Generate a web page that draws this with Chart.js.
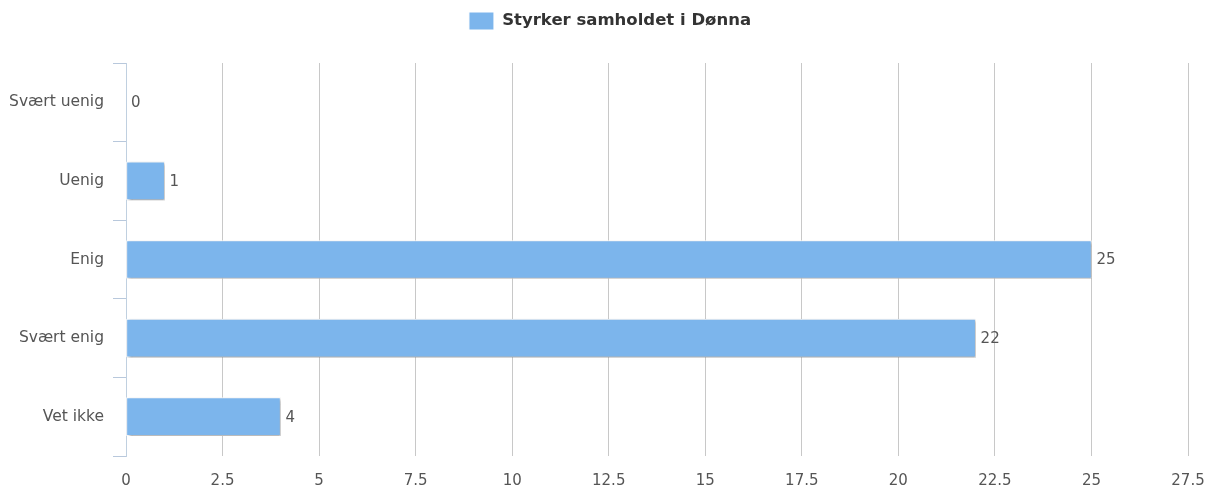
<!DOCTYPE html>
<html>
<head>
<meta charset="utf-8">
<script src="https://cdn.jsdelivr.net/npm/chart.js@4/dist/chart.umd.min.js"></script>
<style>
  html, body { margin: 0; padding: 0; background: #fff; }
  #wrap { width: 1205px; height: 491px; }
</style>
</head>
<body>
<div id="wrap"><canvas id="surveyChart"></canvas></div>
<script>
// Svaralternativer og antall svar
const categories = ['Svært uenig', 'Uenig', 'Enig', 'Svært enig', 'Vet ikke'];
const answers = [0, 1, 25, 22, 4];
const seriesName = 'Styrker samholdet i Dønna';
const xTicks = [0, 2.5, 5, 7.5, 10, 12.5, 15, 17.5, 20, 22.5, 25, 27.5];

const FONT = '"DejaVu Sans", "Noto Sans", sans-serif';

// ekstra luft under legenden, og legenden midt på hele bildet
const legendSpace = {
    id: 'legendSpace',
    beforeInit(chart) {
        const fit = chart.legend.fit;
        chart.legend.fit = function () {
            fit.call(this);
            this.height += 23;
        };
    },
    afterLayout(chart) {
        chart.legend.left += 16;
        chart.legend.right += 16;
    }
};

// skygge under stolpene (som i Highcharts)
const barShadow = {
    id: 'barShadow',
    beforeDatasetsDraw(chart) {
        const c = chart.ctx;
        c.save();
        c.shadowColor = 'rgba(0,0,0,0.4)';
        c.shadowBlur = 3;
        c.shadowOffsetX = 1.5;
        c.shadowOffsetY = 1.5;
    },
    afterDatasetsDraw(chart) {
        chart.ctx.restore();
    }
};

// tall til høyre for hver stolpe
const valueLabels = {
    id: 'valueLabels',
    afterDatasetsDraw(chart) {
        const c = chart.ctx;
        const meta = chart.getDatasetMeta(0);
        c.save();
        c.font = '15px ' + FONT;
        c.fillStyle = '#555';
        c.textAlign = 'left';
        c.textBaseline = 'middle';
        meta.data.forEach((bar, i) => {
            c.fillText(String(answers[i]), bar.x + 5, bar.y + 1);
        });
        c.restore();
    }
};

new Chart(document.getElementById('surveyChart'), {
    type: 'bar',
    data: {
        labels: categories,
        datasets: [{
            label: seriesName,
            data: answers,
            backgroundColor: '#7cb5ec',
            borderColor: '#ffffff',
            borderWidth: 1,
            borderSkipped: false,
            barThickness: 38
        }]
    },
    options: {
        indexAxis: 'y',
        responsive: true,
        maintainAspectRatio: false,
        animation: false,
        layout: { padding: { top: 2, right: 17, left: 0, bottom: 0 } },
        plugins: {
            legend: {
                position: 'top',
                labels: {
                    boxWidth: 25,
                    boxHeight: 18,
                    padding: 10,
                    color: '#333',
                    font: { family: FONT, size: 16.5, weight: 'bold' }
                }
            },
            tooltip: { enabled: false }
        },
        scales: {
            x: {
                min: 0,
                max: 27.5,
                afterBuildTicks: (scale) => { scale.ticks = xTicks.map(v => ({ value: v })); },
                grid: { color: '#c8c8c8', drawTicks: false, lineWidth: 1 },
                border: { display: false },
                ticks: {
                    color: '#555',
                    padding: 16,
                    font: { family: FONT, size: 15 },
                    callback: (v) => String(v)
                },
                afterFit: (scale) => {
                    scale.height = 35;
                    scale.paddingLeft = 0;
                    scale.paddingRight = 0;
                }
            },
            y: {
                grid: {
                    offset: true,
                    drawOnChartArea: false,
                    drawTicks: true,
                    tickLength: 13,
                    color: '#b8c8dc'
                },
                border: { display: true, color: '#c0d0e0', width: 1 },
                ticks: {
                    color: '#555',
                    padding: 9,
                    font: { family: FONT, size: 15.5 }
                },
                afterFit: (scale) => { scale.width = 126; }
            }
        }
    },
    plugins: [legendSpace, barShadow, valueLabels]
});
</script>
</body>
</html>
